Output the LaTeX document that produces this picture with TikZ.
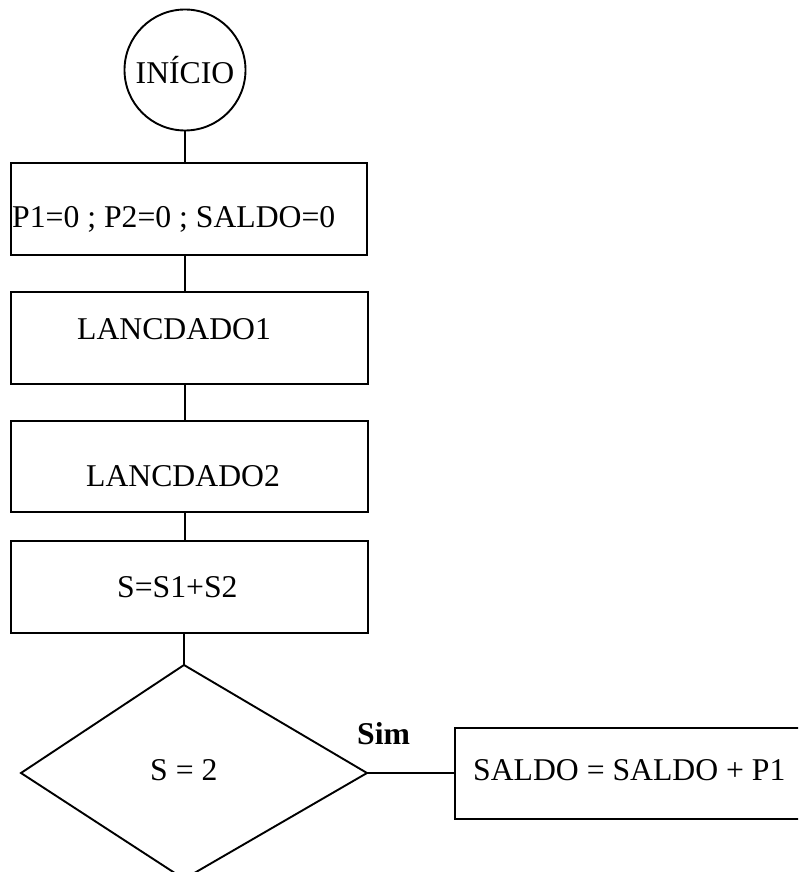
\documentclass[tikz,border=0pt]{standalone}
\usepackage{fontspec}
\setmainfont{Liberation Serif}
\begin{document}
\begin{tikzpicture}[x=1pt,y=-1pt,
  every node/.style={font=\fontsize{31.7}{38}\selectfont},
  line/.style={draw=black,line width=1.9pt},
  procbox/.style={line,rectangle,inner sep=0pt,anchor=north west},
  txt/.style={anchor=base west,inner sep=0pt}]
  \useasboundingbox (0,0) rectangle (798,872);
  \clip (0,0) rectangle (798,872);
  \fill[white] (0,0) rectangle (798,872);

  % start terminal
  \node[line,circle,minimum size=121pt,inner sep=0pt] (start) at (185,70) {INÍCIO};

  % process boxes
  \node[procbox,minimum width=356pt,minimum height=92pt] (b1) at (10,162) {};
  \node[txt] (t1) at (12,227) {P1=0 ; P2=0 ; SALDO=0};

  \node[procbox,minimum width=357pt,minimum height=92pt] (b2) at (10,291) {};
  \node[txt] (t2) at (77,339) {LANCDADO1};

  \node[procbox,minimum width=357pt,minimum height=91pt] (b3) at (10,420) {};
  \node[txt] (t3) at (86,486) {LANCDADO2};

  \node[procbox,minimum width=357pt,minimum height=92pt] (b4) at (10,540) {};
  \node[txt] (t4) at (117,597) {S=S1+S2};

  % decision
  \coordinate (dt) at (184,665);
  \coordinate (dr) at (367,773);
  \coordinate (db) at (184,879);
  \coordinate (dl) at (21,773);
  \draw[line,line join=miter] (dt) -- (dr) -- (db) -- (dl) -- cycle;
  \node[txt] (dtext) at (150,780) {S = 2};

  % result box (runs past the right edge)
  \node[procbox,minimum width=380pt,minimum height=91pt] (b5) at (454,727) {};
  \node[txt] (t5) at (473,780) {SALDO = SALDO + P1};

  % connectors
  \draw[line] (start.south) -- (b1.north -| start.south);
  \draw[line] (b1.south -| start.south) -- (b2.north -| start.south);
  \draw[line] (b2.south -| start.south) -- (b3.north -| start.south);
  \draw[line] (b3.south -| start.south) -- (b4.north -| start.south);
  \draw[line] (b4.south -| dt) -- (dt);
  \draw[line] (dr) -- (dr -| b5.west);
  \node[txt,font=\fontsize{31.7}{38}\selectfont\bfseries] (sim) at (357,744) {Sim};
\end{tikzpicture}
\end{document}
